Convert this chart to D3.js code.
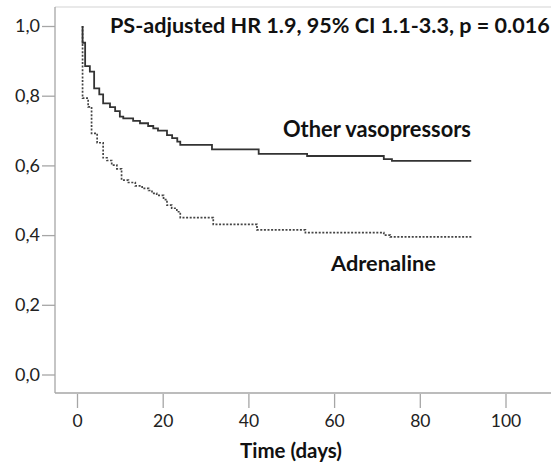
<!DOCTYPE html>
<html>
<head>
<meta charset="utf-8">
<script src="https://cdn.jsdelivr.net/npm/d3@7"></script>
<style>
  html, body { margin: 0; padding: 0; background: #fff; }
  svg { display: block; font-family: Lato, "Open Sans", sans-serif; }
</style>
</head>
<body>
<svg id="chart" width="551" height="465"></svg>
<script>
// ---- data ----
const otherTimes = [1.3, 1.3, 1.9, 3.0, 4.0, 5.2, 6.1, 7.7, 8.9, 10.0, 10.8, 13.1, 14.7, 16.6, 17.8, 18.9, 21.0, 22.2, 23.4, 24.1, 31.5, 42.4, 53.7, 71.6, 73.5, 92.0];
const otherSurv  = [1.0, 0.952, 0.885, 0.869, 0.821, 0.804, 0.778, 0.767, 0.756, 0.740, 0.735, 0.728, 0.721, 0.713, 0.706, 0.700, 0.687, 0.678, 0.668, 0.659, 0.646, 0.633, 0.627, 0.618, 0.613, 0.613];
const adrTimes = [1.3, 1.3, 2.6, 3.4, 4.7, 6.1, 7.0, 8.1, 9.3, 10.4, 12.0, 13.6, 15.2, 16.7, 17.5, 18.6, 20.2, 21.0, 22.1, 23.3, 24.1, 31.8, 42.0, 53.3, 71.6, 73.1, 92.1];
const adrSurv  = [1.0, 0.793, 0.768, 0.692, 0.665, 0.622, 0.614, 0.601, 0.590, 0.558, 0.551, 0.541, 0.534, 0.528, 0.520, 0.514, 0.502, 0.486, 0.477, 0.467, 0.450, 0.431, 0.415, 0.407, 0.400, 0.395, 0.395];
const xTicks = [0, 20, 40, 60, 80, 100];
const yTicks = [0, 0.2, 0.4, 0.6, 0.8, 1.0];
const seriesNames = ["Other vasopressors", "Adrenaline"];
const titleText = "PS-adjusted HR 1.9, 95% CI 1.1-3.3, p = 0.016";
const xTitle = "Time (days)";

// ---- layout ----
const svg = d3.select("#chart");
const frame = { left: 55, top: 7, bottom: 393, right: 600 };
const x = d3.scaleLinear().domain([0, 100]).range([77, 505.5]);
const y = d3.scaleLinear().domain([0, 1]).range([374.5, 26]);

// the reference is cropped on its left side
svg.append("defs").append("clipPath").attr("id", "cropLeft")
  .append("rect").attr("x", 15).attr("y", 0).attr("width", 600).attr("height", 465);

// frame
svg.append("line").attr("x1", frame.left).attr("x2", frame.right).attr("y1", frame.top).attr("y2", frame.top)
  .attr("stroke", "#d4d4d4").attr("stroke-width", 1.2);
svg.append("line").attr("x1", frame.left).attr("x2", frame.left).attr("y1", frame.top).attr("y2", frame.bottom)
  .attr("stroke", "#a6a6a6").attr("stroke-width", 1.3);
svg.append("line").attr("x1", frame.left).attr("x2", frame.right).attr("y1", frame.bottom).attr("y2", frame.bottom)
  .attr("stroke", "#a6a6a6").attr("stroke-width", 1.3);

// y axis
const yAxis = d3.axisLeft(y).tickValues(yTicks).tickSize(13).tickPadding(2).tickSizeOuter(0)
  .tickFormat(d => d3.format(".1f")(d).replace(".", ","));
const gyWrap = svg.append("g").attr("clip-path", "url(#cropLeft)");
const gy = gyWrap.append("g").attr("transform", `translate(${frame.left},0)`).call(yAxis);
gy.select(".domain").remove();
gy.selectAll(".tick line").attr("stroke", "#a6a6a6").attr("stroke-width", 1.3);
gy.selectAll(".tick text").attr("font-size", 18).attr("fill", "#222").attr("font-family", "Lato, sans-serif");

// x axis
const xAxis = d3.axisBottom(x).tickValues(xTicks).tickSize(14).tickPadding(7).tickSizeOuter(0).tickFormat(d3.format("d"));
const gx = svg.append("g").attr("transform", `translate(0,${frame.bottom + 1})`).call(xAxis);
gx.select(".domain").remove();
gx.selectAll(".tick line").attr("stroke", "#a6a6a6").attr("stroke-width", 1.3);
gx.selectAll(".tick text").attr("font-size", 17.5).attr("fill", "#222").attr("font-family", "Lato, sans-serif");

// curves
const line = d3.line().x(d => x(d[0])).y(d => y(d[1])).curve(d3.curveStepAfter);
const otherData = otherTimes.map((t, i) => [t, otherSurv[i]]);
const adrData = adrTimes.map((t, i) => [t, adrSurv[i]]);

svg.append("path").datum(adrData).attr("d", line).attr("fill", "none")
  .attr("stroke", "#444").attr("stroke-width", 1.7).attr("stroke-dasharray", "2,1.6");
svg.append("path").datum(otherData).attr("d", line).attr("fill", "none")
  .attr("stroke", "#333").attr("stroke-width", 1.8);

// texts
function fit(sel, w) {
  const fs = +sel.attr("font-size");
  const cur = sel.node().getComputedTextLength();
  if (cur > 0) sel.attr("font-size", fs * w / cur);
}
const t1 = svg.append("text").attr("x", 110).attr("y", 33).attr("font-size", 20).attr("font-weight", "bold")
  .attr("fill", "#111").text(titleText);
fit(t1, 440);
const l1 = svg.append("text").attr("x", 283).attr("y", 137).attr("font-size", 19).attr("font-weight", "bold")
  .attr("fill", "#111").text(seriesNames[0]);
fit(l1, 188);
const l2 = svg.append("text").attr("x", 331).attr("y", 271).attr("font-size", 19).attr("font-weight", "bold")
  .attr("fill", "#111").text(seriesNames[1]);
fit(l2, 105);
const xt = svg.append("text").attr("x", 240).attr("y", 458).attr("font-size", 18).attr("font-weight", "bold")
  .attr("fill", "#111").text(xTitle);
fit(xt, 102);
</script>
</body>
</html>
